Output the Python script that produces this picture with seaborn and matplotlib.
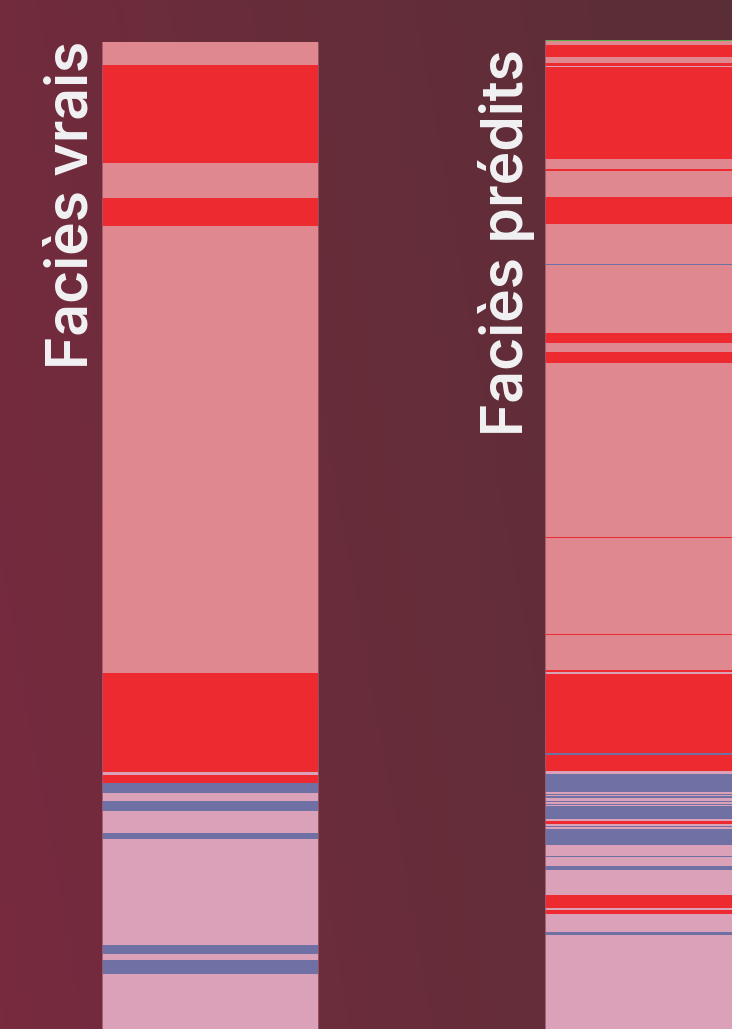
import numpy as np
import pandas as pd
import matplotlib
matplotlib.use("Agg")
import matplotlib.pyplot as plt
from matplotlib.colors import ListedColormap, LinearSegmentedColormap
import seaborn as sns

# Facies classes and display colours
FACIES = ["salmon", "red", "light", "blue", "green"]
FACIES_COLORS = ["#DF8890", "#EE2A31", "#DBA1B8", "#6F71A5", "#5BB04D"]

# True facies log: facies per bed, thickness in samples (top to bottom)
TRUE_FACIES = ["salmon", "red", "salmon", "red", "salmon", "red", "light", "red",
               "blue", "light", "blue", "light", "blue", "light", "blue", "light",
               "blue", "light"]
TRUE_THICK = [47, 195, 71, 55, 894, 199, 5, 17,
              19, 17, 19, 44, 13, 212, 18, 12,
              27, 111]

# Predicted facies log
PRED_FACIES = ["green", "salmon", "red", "salmon", "red", "light", "red", "salmon",
               "red", "salmon", "red", "salmon", "blue", "salmon", "red", "salmon",
               "red", "salmon", "red", "salmon", "red", "salmon", "red", "light",
               "red", "blue", "red", "light", "blue", "light", "blue", "light",
               "blue", "light", "blue", "light", "blue", "light", "blue", "light",
               "red", "light", "blue", "light", "blue", "light", "blue", "light",
               "blue", "light", "red", "light", "red", "light", "blue", "light"]
PRED_THICK = [3, 8, 24, 11, 6, 3, 184, 20,
              4, 52, 54, 80, 3, 135, 20, 18,
              23, 347, 2, 194, 2, 69, 4, 4,
              159, 3, 33, 5, 37, 3, 3, 2,
              3, 6, 3, 4, 2, 2, 26, 3,
              7, 3, 3, 3, 32, 23, 2, 18,
              8, 50, 26, 3, 9, 36, 6, 188]

TITLES = ["Faciès vrais", "Faciès prédits"]


def facies_column(names, thick):
    codes = [FACIES.index(n) for n in names]
    return pd.DataFrame({"facies": np.repeat(codes, thick)})


W, H = 732, 1029
fig = plt.figure(figsize=(W / 100, H / 100), dpi=100)

# background gradient
bg = fig.add_axes([0, 0, 1, 1])
gx, gy = np.meshgrid(np.linspace(0, 1, 200), np.linspace(0, 1, 200))
bg_cmap = LinearSegmentedColormap.from_list("bg", ["#782A3F", "#672D3A", "#5A2E37"])
bg.imshow(0.8 * gx + 0.2 * (1 - gy), cmap=bg_cmap, aspect="auto", extent=[0, 1, 0, 1])
bg.set_axis_off()

cmap = ListedColormap(FACIES_COLORS)
columns = [
    (facies_column(TRUE_FACIES, TRUE_THICK), 101.7, 41.7),
    (facies_column(PRED_FACIES, PRED_THICK), 545, 39.7),
]
for df, x0, y0 in columns:
    ax = fig.add_axes([x0 / W, 0, 216 / W, (H - y0) / H])
    sns.heatmap(df, ax=ax, cmap=cmap, vmin=-0.5, vmax=len(FACIES) - 0.5,
                cbar=False, xticklabels=False, yticklabels=False)
    ax.set_xlabel("")
    ax.set_ylabel("")
    for side, s in ax.spines.items():
        s.set_visible(side in ("left", "right"))
        s.set_color("#9A5868")
        s.set_linewidth(0.6)

# rotated titles
title_kw = dict(rotation=90, rotation_mode="anchor", ha="left", va="baseline",
                color="#F2F2F4", fontsize=41, fontfamily="Inter", fontweight="semibold")
fig.text(87 / W, 1 - 369 / H, TITLES[0], **title_kw)
fig.text(523 / W, 1 - 436 / H, TITLES[1], **title_kw)

fig.savefig("out.png", dpi=100)
